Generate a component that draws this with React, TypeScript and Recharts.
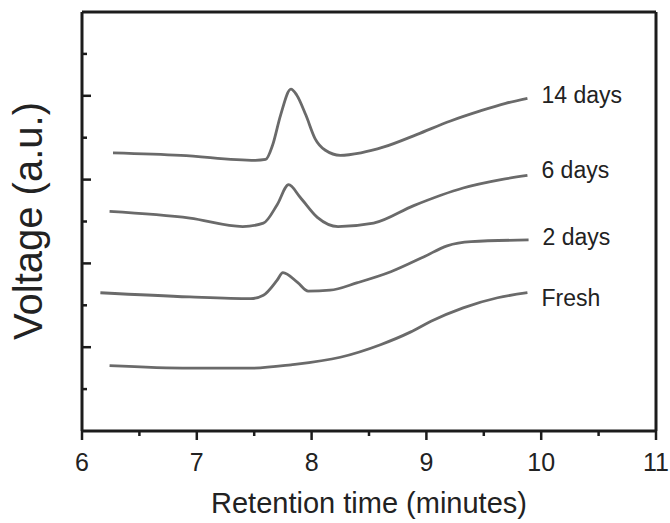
import { Line, LineChart, XAxis, YAxis } from 'recharts'

// chromatogram traces, retention time (min) vs detector voltage (a.u.)
const fresh = [
	{ t: 6.24, v: 0.78 },
	{ t: 6.94, v: 0.75 },
	{ t: 7.47, v: 0.75 },
	{ t: 7.82, v: 0.79 },
	{ t: 8.25, v: 0.88 },
	{ t: 8.6, v: 1.03 },
	{ t: 8.86, v: 1.18 },
	{ t: 9.04, v: 1.31 },
	{ t: 9.32, v: 1.47 },
	{ t: 9.62, v: 1.59 },
	{ t: 9.88, v: 1.65 },
]

const days2 = [
	{ t: 6.16, v: 1.65 },
	{ t: 6.94, v: 1.6 },
	{ t: 7.47, v: 1.58 },
	{ t: 7.58, v: 1.62 },
	{ t: 7.7, v: 1.8 },
	{ t: 7.75, v: 1.89 },
	{ t: 7.88, v: 1.77 },
	{ t: 7.97, v: 1.67 },
	{ t: 8.16, v: 1.68 },
	{ t: 8.4, v: 1.77 },
	{ t: 8.69, v: 1.9 },
	{ t: 8.98, v: 2.08 },
	{ t: 9.18, v: 2.21 },
	{ t: 9.39, v: 2.26 },
	{ t: 9.89, v: 2.28 },
]

const days6 = [
	{ t: 6.24, v: 2.62 },
	{ t: 6.94, v: 2.54 },
	{ t: 7.4, v: 2.44 },
	{ t: 7.58, v: 2.48 },
	{ t: 7.7, v: 2.7 },
	{ t: 7.8, v: 2.94 },
	{ t: 7.9, v: 2.79 },
	{ t: 8.05, v: 2.55 },
	{ t: 8.23, v: 2.44 },
	{ t: 8.54, v: 2.48 },
	{ t: 8.89, v: 2.69 },
	{ t: 9.32, v: 2.9 },
	{ t: 9.65, v: 3.0 },
	{ t: 9.88, v: 3.05 },
]

const days14 = [
	{ t: 6.27, v: 3.32 },
	{ t: 6.86, v: 3.29 },
	{ t: 7.51, v: 3.23 },
	{ t: 7.6, v: 3.24 },
	{ t: 7.66, v: 3.41 },
	{ t: 7.73, v: 3.77 },
	{ t: 7.82, v: 4.08 },
	{ t: 7.87, v: 4.01 },
	{ t: 7.95, v: 3.77 },
	{ t: 8.03, v: 3.49 },
	{ t: 8.12, v: 3.35 },
	{ t: 8.25, v: 3.29 },
	{ t: 8.43, v: 3.32 },
	{ t: 8.63, v: 3.39 },
	{ t: 8.92, v: 3.54 },
	{ t: 9.21, v: 3.7 },
	{ t: 9.47, v: 3.82 },
	{ t: 9.69, v: 3.91 },
	{ t: 9.88, v: 3.97 },
]

const xTicks = [6, 6.5, 7, 7.5, 8, 8.5, 9, 9.5, 10, 10.5, 11]
const topTicks = [7, 8, 9, 10]
const yTicks = [0.5, 1, 1.5, 2, 2.5, 3, 3.5, 4, 4.5]

const series = [
	{ name: 'Fresh', data: fresh, dy: 5 },
	{ name: '2 days', data: days2, dy: -3 },
	{ name: '6 days', data: days6, dy: -5 },
	{ name: '14 days', data: days14, dy: -3 },
]

const FONT = '"Liberation Sans", Arial, sans-serif'
const AXIS = '#1c1c1c'
const TRACE = '#6a6a6a'

const BottomTick = (props: any) => {
	const { x, y, payload } = props
	const major = Number.isInteger(payload.value)
	return (
		<g>
			<line x1={x} x2={x} y1={y} y2={y + (major ? 9 : 5)} stroke={AXIS} strokeWidth={2.5} />
			{major && (
				<text x={x} y={y + 31} textAnchor='middle' dominantBaseline='central' fontSize={25} fill='#222' fontFamily={FONT}>
					{payload.value}
				</text>
			)}
		</g>
	)
}

const TopTick = (props: any) => {
	const { x, y } = props
	return <line x1={x} x2={x} y1={y} y2={y + 9} stroke={AXIS} strokeWidth={2.5} />
}

const LeftTick = (props: any) => {
	const { x, y, payload } = props
	const major = Number.isInteger(payload.value)
	return <line x1={x} x2={x + (major ? 9 : 5)} y1={y} y2={y} stroke={AXIS} strokeWidth={2.5} />
}

const endLabel = (name: string, count: number, dy: number) => (props: any) => {
	const { x, y, index } = props
	if (index !== count - 1) return null
	return (
		<text key={name} x={x + 14} y={y + dy} dominantBaseline='central' fontSize={23} fill='#222' fontFamily={FONT}>
			{name}
		</text>
	)
}

export default function App() {
	return (
		<div style={{ position: 'absolute', left: 0, top: 0, background: '#fff' }}>
			<LineChart width={670} height={523} margin={{ top: 2, right: 4, bottom: 52, left: 22 }}>
				<XAxis
					xAxisId='bottom'
					type='number'
					dataKey='t'
					domain={[6, 11]}
					ticks={xTicks}
					interval={0}
					height={40}
					tickSize={0}
					tickMargin={0}
					tickLine={false}
					tick={<BottomTick />}
					axisLine={{ stroke: AXIS, strokeWidth: 3 }}
				/>
				<XAxis
					xAxisId='top'
					orientation='top'
					type='number'
					domain={[6, 11]}
					ticks={topTicks}
					interval={0}
					height={10}
					tickSize={0}
					tickMargin={0}
					tickLine={false}
					tick={<TopTick />}
					axisLine={{ stroke: AXIS, strokeWidth: 3 }}
				/>
				<YAxis
					yAxisId='left'
					type='number'
					domain={[0, 5]}
					ticks={yTicks}
					interval={0}
					width={60}
					tickSize={0}
					tickMargin={0}
					tickLine={false}
					tick={<LeftTick />}
					axisLine={{ stroke: AXIS, strokeWidth: 3 }}
				/>
				<YAxis
					yAxisId='right'
					orientation='right'
					type='number'
					domain={[0, 5]}
					width={10}
					tick={false}
					tickLine={false}
					axisLine={{ stroke: AXIS, strokeWidth: 3 }}
				/>
				{series.map((s) => (
					<Line
						key={s.name}
						xAxisId='bottom'
						yAxisId='left'
						data={s.data}
						dataKey='v'
						type='monotone'
						stroke={TRACE}
						strokeWidth={2.8}
						dot={false}
						activeDot={false}
						isAnimationActive={false}
						label={endLabel(s.name, s.data.length, s.dy)}
					/>
				))}
				<text x={369} y={503} textAnchor='middle' dominantBaseline='central' fontSize={29} fill='#222' fontFamily={FONT}>
					Retention time (minutes)
				</text>
				<text
					x={28}
					y={221}
					transform='rotate(-90 28 221)'
					textAnchor='middle'
					dominantBaseline='central'
					fontSize={40}
					fill='#222'
					fontFamily={FONT}
				>
					Voltage (a.u.)
				</text>
			</LineChart>
		</div>
	)
}
